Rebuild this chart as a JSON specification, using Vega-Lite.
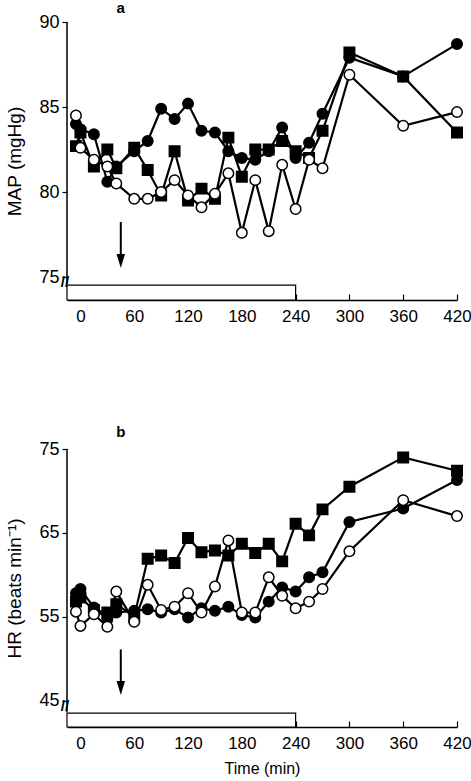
{
  "$schema": "https://vega.github.io/schema/vega-lite/v6.json",
  "padding": {"top": 0, "left": 5, "right": 5, "bottom": 2},
  "background": "white",
  "config": {
    "font": "Liberation Sans",
    "view": {"stroke": null},
    "axis": {"labelColor": "black", "titleColor": "black", "tickColor": "black", "domainColor": "black", "labelFont": "Liberation Sans", "titleFont": "Liberation Sans", "titleFontWeight": "normal", "grid": false}
  },
  "datasets": {
    "map": [
      {"t": -5, "v": 84.0, "g": "fc"}, {"t": 0, "v": 83.7, "g": "fc"}, {"t": 15, "v": 83.4, "g": "fc"}, {"t": 30, "v": 80.6, "g": "fc"}, {"t": 40, "v": 81.5, "g": "fc"}, {"t": 60, "v": 82.4, "g": "fc"}, {"t": 75, "v": 83.0, "g": "fc"}, {"t": 90, "v": 84.9, "g": "fc"}, {"t": 105, "v": 84.3, "g": "fc"}, {"t": 120, "v": 85.2, "g": "fc"}, {"t": 135, "v": 83.6, "g": "fc"}, {"t": 150, "v": 83.5, "g": "fc"}, {"t": 165, "v": 82.4, "g": "fc"}, {"t": 180, "v": 82.0, "g": "fc"}, {"t": 195, "v": 81.9, "g": "fc"}, {"t": 210, "v": 82.4, "g": "fc"}, {"t": 225, "v": 83.8, "g": "fc"}, {"t": 240, "v": 82.0, "g": "fc"}, {"t": 255, "v": 82.9, "g": "fc"}, {"t": 270, "v": 84.6, "g": "fc"}, {"t": 300, "v": 87.9, "g": "fc"}, {"t": 360, "v": 86.8, "g": "fc"}, {"t": 420, "v": 88.7, "g": "fc"},
      {"t": -5, "v": 82.7, "g": "sq"}, {"t": 0, "v": 83.5, "g": "sq"}, {"t": 15, "v": 81.5, "g": "sq"}, {"t": 30, "v": 82.5, "g": "sq"}, {"t": 40, "v": 81.4, "g": "sq"}, {"t": 60, "v": 82.6, "g": "sq"}, {"t": 75, "v": 81.3, "g": "sq"}, {"t": 90, "v": 79.8, "g": "sq"}, {"t": 105, "v": 82.4, "g": "sq"}, {"t": 120, "v": 79.5, "g": "sq"}, {"t": 135, "v": 80.2, "g": "sq"}, {"t": 150, "v": 79.6, "g": "sq"}, {"t": 165, "v": 83.2, "g": "sq"}, {"t": 180, "v": 80.9, "g": "sq"}, {"t": 195, "v": 82.5, "g": "sq"}, {"t": 210, "v": 82.5, "g": "sq"}, {"t": 225, "v": 83.0, "g": "sq"}, {"t": 240, "v": 82.4, "g": "sq"}, {"t": 255, "v": 82.0, "g": "sq"}, {"t": 270, "v": 83.6, "g": "sq"}, {"t": 300, "v": 88.2, "g": "sq"}, {"t": 360, "v": 86.8, "g": "sq"}, {"t": 420, "v": 83.5, "g": "sq"},
      {"t": -5, "v": 84.5, "g": "oc"}, {"t": 0, "v": 82.6, "g": "oc"}, {"t": 15, "v": 81.9, "g": "oc"}, {"t": 30, "v": 81.5, "g": "oc"}, {"t": 40, "v": 80.5, "g": "oc"}, {"t": 60, "v": 79.6, "g": "oc"}, {"t": 75, "v": 79.6, "g": "oc"}, {"t": 90, "v": 80.0, "g": "oc"}, {"t": 105, "v": 80.7, "g": "oc"}, {"t": 120, "v": 79.8, "g": "oc"}, {"t": 135, "v": 79.1, "g": "oc"}, {"t": 150, "v": 79.9, "g": "oc"}, {"t": 165, "v": 81.1, "g": "oc"}, {"t": 180, "v": 77.6, "g": "oc"}, {"t": 195, "v": 80.7, "g": "oc"}, {"t": 210, "v": 77.7, "g": "oc"}, {"t": 225, "v": 81.6, "g": "oc"}, {"t": 240, "v": 79.0, "g": "oc"}, {"t": 255, "v": 81.9, "g": "oc"}, {"t": 270, "v": 81.4, "g": "oc"}, {"t": 300, "v": 86.9, "g": "oc"}, {"t": 360, "v": 83.9, "g": "oc"}, {"t": 420, "v": 84.7, "g": "oc"}
    ],
    "hr": [
      {"t": -5, "v": 57.8, "g": "fc"}, {"t": 0, "v": 58.3, "g": "fc"}, {"t": 15, "v": 56.1, "g": "fc"}, {"t": 30, "v": 54.7, "g": "fc"}, {"t": 40, "v": 55.5, "g": "fc"}, {"t": 60, "v": 55.7, "g": "fc"}, {"t": 75, "v": 55.9, "g": "fc"}, {"t": 90, "v": 55.5, "g": "fc"}, {"t": 105, "v": 55.9, "g": "fc"}, {"t": 120, "v": 54.9, "g": "fc"}, {"t": 135, "v": 56.0, "g": "fc"}, {"t": 150, "v": 55.7, "g": "fc"}, {"t": 165, "v": 56.2, "g": "fc"}, {"t": 180, "v": 55.2, "g": "fc"}, {"t": 195, "v": 54.9, "g": "fc"}, {"t": 210, "v": 56.8, "g": "fc"}, {"t": 225, "v": 58.5, "g": "fc"}, {"t": 240, "v": 58.0, "g": "fc"}, {"t": 255, "v": 59.7, "g": "fc"}, {"t": 270, "v": 60.3, "g": "fc"}, {"t": 300, "v": 66.3, "g": "fc"}, {"t": 360, "v": 67.9, "g": "fc"}, {"t": 420, "v": 71.3, "g": "fc"},
      {"t": -5, "v": 56.8, "g": "sq"}, {"t": 0, "v": 57.3, "g": "sq"}, {"t": 15, "v": 55.8, "g": "sq"}, {"t": 30, "v": 55.5, "g": "sq"}, {"t": 40, "v": 56.5, "g": "sq"}, {"t": 60, "v": 55.0, "g": "sq"}, {"t": 75, "v": 61.9, "g": "sq"}, {"t": 90, "v": 62.3, "g": "sq"}, {"t": 105, "v": 61.4, "g": "sq"}, {"t": 120, "v": 64.4, "g": "sq"}, {"t": 135, "v": 62.7, "g": "sq"}, {"t": 150, "v": 62.9, "g": "sq"}, {"t": 165, "v": 62.3, "g": "sq"}, {"t": 180, "v": 63.7, "g": "sq"}, {"t": 195, "v": 62.6, "g": "sq"}, {"t": 210, "v": 63.7, "g": "sq"}, {"t": 225, "v": 61.6, "g": "sq"}, {"t": 240, "v": 66.1, "g": "sq"}, {"t": 255, "v": 64.7, "g": "sq"}, {"t": 270, "v": 67.8, "g": "sq"}, {"t": 300, "v": 70.5, "g": "sq"}, {"t": 360, "v": 74.0, "g": "sq"}, {"t": 420, "v": 72.4, "g": "sq"},
      {"t": -5, "v": 55.6, "g": "oc"}, {"t": 0, "v": 53.9, "g": "oc"}, {"t": 15, "v": 55.3, "g": "oc"}, {"t": 30, "v": 53.8, "g": "oc"}, {"t": 40, "v": 58.0, "g": "oc"}, {"t": 60, "v": 54.4, "g": "oc"}, {"t": 75, "v": 58.8, "g": "oc"}, {"t": 90, "v": 55.8, "g": "oc"}, {"t": 105, "v": 56.2, "g": "oc"}, {"t": 120, "v": 57.8, "g": "oc"}, {"t": 135, "v": 55.5, "g": "oc"}, {"t": 150, "v": 58.6, "g": "oc"}, {"t": 165, "v": 64.1, "g": "oc"}, {"t": 180, "v": 55.5, "g": "oc"}, {"t": 195, "v": 55.5, "g": "oc"}, {"t": 210, "v": 59.7, "g": "oc"}, {"t": 225, "v": 57.5, "g": "oc"}, {"t": 240, "v": 56.0, "g": "oc"}, {"t": 255, "v": 56.8, "g": "oc"}, {"t": 270, "v": 58.3, "g": "oc"}, {"t": 300, "v": 62.8, "g": "oc"}, {"t": 360, "v": 68.9, "g": "oc"}, {"t": 420, "v": 67.0, "g": "oc"}
    ],
    "infusion": [{"start": -15, "end": 240}],
    "one": [{}]
  },
  "spacing": 100,
  "vconcat": [
    {
      "width": 390,
      "height": 278,
      "layer": [
        {
          "data": {"name": "infusion"},
          "mark": {"type": "rect", "fill": "white", "stroke": "black", "strokeWidth": 1.2},
          "encoding": {
            "x": {"field": "start", "type": "quantitative", "scale": {"domain": [-15, 420], "nice": false, "zero": false},
              "axis": {"values": [0,15,30,45,60,75,90,105,120,135,150,165,180,195,210,225,240,255,270,285,300,315,330,345,360,375,390,405,420],
                "labelExpr": "datum.value % 60 === 0 ? datum.label : ''", "title": null, "labelFontSize": 17, "labelPadding": 14,
                "tickSize": {"condition": {"test": "datum.value % 60 === 0", "value": -6}, "value": -4}, "tickWidth": 1.2, "domainWidth": 1.5, "labelFlush": false}},
            "x2": {"field": "end"},
            "y": {"datum": 73.65, "type": "quantitative", "scale": {"domain": [73.65, 90], "nice": false, "zero": false},
              "axis": {"values": [75, 80, 85, 90], "domain": false, "title": "MAP (mgHg)", "titleFontSize": 19, "labelFontSize": 18, "labelPadding": 3, "tickSize": 5, "tickWidth": 1.2, "titlePadding": 14}},
            "y2": {"datum": 74.53}
          }
        },
        {
          "data": {"name": "one"},
          "mark": {"type": "rule", "strokeWidth": 1.5, "color": "black"},
          "encoding": {"x": {"datum": -15}, "y": {"datum": 74.6}, "y2": {"datum": 90}}
        },
        {
          "data": {"name": "one"},
          "mark": {"type": "text", "text": "//", "fontSize": 15, "dx": -2, "dy": 5, "fontWeight": "bold"},
          "encoding": {"x": {"datum": -15}, "y": {"datum": 75}}
        },
        {
          "data": {"name": "one"},
          "mark": {"type": "text", "text": "a", "fontSize": 15, "fontWeight": "bold"},
          "encoding": {"x": {"datum": 45}, "y": {"datum": 90.85}}
        },
        {
          "data": {"name": "one"},
          "mark": {"type": "rule", "strokeWidth": 2, "color": "black"},
          "encoding": {"x": {"datum": 45}, "y": {"datum": 78.24}, "y2": {"datum": 76.1}}
        },
        {
          "data": {"name": "one"},
          "mark": {"type": "point", "shape": "M-0.6,-1L0.6,-1L0,1Z", "size": 196, "filled": true, "color": "black", "opacity": 1},
          "encoding": {"x": {"datum": 45}, "y": {"datum": 75.94}}
        },
        {
          "data": {"name": "map"},
          "mark": {"type": "line", "color": "black", "strokeWidth": 2.2},
          "encoding": {"x": {"field": "t", "type": "quantitative"}, "y": {"field": "v", "type": "quantitative"}, "detail": {"field": "g"}}
        },
        {
          "data": {"name": "map"},
          "mark": {"type": "point", "size": 110, "strokeWidth": 1.5, "stroke": "black", "opacity": 1},
          "encoding": {
            "x": {"field": "t", "type": "quantitative"},
            "y": {"field": "v", "type": "quantitative"},
            "shape": {"field": "g", "type": "nominal", "scale": {"domain": ["fc", "sq", "oc"], "range": ["circle", "square", "circle"]}, "legend": null},
            "fill": {"field": "g", "type": "nominal", "scale": {"domain": ["fc", "sq", "oc"], "range": ["black", "black", "white"]}, "legend": null}
          }
        }
      ]
    },
    {
      "width": 390,
      "height": 278,
      "layer": [
        {
          "data": {"name": "infusion"},
          "mark": {"type": "rect", "fill": "white", "stroke": "black", "strokeWidth": 1.2},
          "encoding": {
            "x": {"field": "start", "type": "quantitative", "scale": {"domain": [-15, 420], "nice": false, "zero": false},
              "axis": {"values": [0,15,30,45,60,75,90,105,120,135,150,165,180,195,210,225,240,255,270,285,300,315,330,345,360,375,390,405,420],
                "labelExpr": "datum.value % 60 === 0 ? datum.label : ''", "title": "Time (min)", "titleFontSize": 16, "titlePadding": 9, "labelFontSize": 17, "labelPadding": 14,
                "tickSize": {"condition": {"test": "datum.value % 60 === 0", "value": -6}, "value": -4}, "tickWidth": 1.2, "domainWidth": 1.5, "labelFlush": false}},
            "x2": {"field": "end"},
            "y": {"datum": 41.85, "type": "quantitative", "scale": {"domain": [41.85, 75], "nice": false, "zero": false},
              "axis": {"values": [45, 55, 65, 75], "domain": false, "title": "HR (beats min⁻¹)", "titleFontSize": 19, "labelFontSize": 18, "labelPadding": 3, "tickSize": 5, "tickWidth": 1.2, "titlePadding": 14}},
            "y2": {"datum": 43.5}
          }
        },
        {
          "data": {"name": "one"},
          "mark": {"type": "rule", "strokeWidth": 1.5, "color": "black"},
          "encoding": {"x": {"datum": -15}, "y": {"datum": 43.6}, "y2": {"datum": 75}}
        },
        {
          "data": {"name": "one"},
          "mark": {"type": "text", "text": "//", "fontSize": 15, "dx": -2, "dy": 5, "fontWeight": "bold"},
          "encoding": {"x": {"datum": -15}, "y": {"datum": 45}}
        },
        {
          "data": {"name": "one"},
          "mark": {"type": "text", "text": "b", "fontSize": 15, "fontWeight": "bold"},
          "encoding": {"x": {"datum": 45}, "y": {"datum": 77.08}}
        },
        {
          "data": {"name": "one"},
          "mark": {"type": "rule", "strokeWidth": 2, "color": "black"},
          "encoding": {"x": {"datum": 45}, "y": {"datum": 51.1}, "y2": {"datum": 46.8}}
        },
        {
          "data": {"name": "one"},
          "mark": {"type": "point", "shape": "M-0.6,-1L0.6,-1L0,1Z", "size": 196, "filled": true, "color": "black", "opacity": 1},
          "encoding": {"x": {"datum": 45}, "y": {"datum": 46.49}}
        },
        {
          "data": {"name": "hr"},
          "mark": {"type": "line", "color": "black", "strokeWidth": 2.2},
          "encoding": {"x": {"field": "t", "type": "quantitative"}, "y": {"field": "v", "type": "quantitative"}, "detail": {"field": "g"}}
        },
        {
          "data": {"name": "hr"},
          "mark": {"type": "point", "size": 110, "strokeWidth": 1.5, "stroke": "black", "opacity": 1},
          "encoding": {
            "x": {"field": "t", "type": "quantitative"},
            "y": {"field": "v", "type": "quantitative"},
            "shape": {"field": "g", "type": "nominal", "scale": {"domain": ["fc", "sq", "oc"], "range": ["circle", "square", "circle"]}, "legend": null},
            "fill": {"field": "g", "type": "nominal", "scale": {"domain": ["fc", "sq", "oc"], "range": ["black", "black", "white"]}, "legend": null}
          }
        }
      ]
    }
  ]
}
